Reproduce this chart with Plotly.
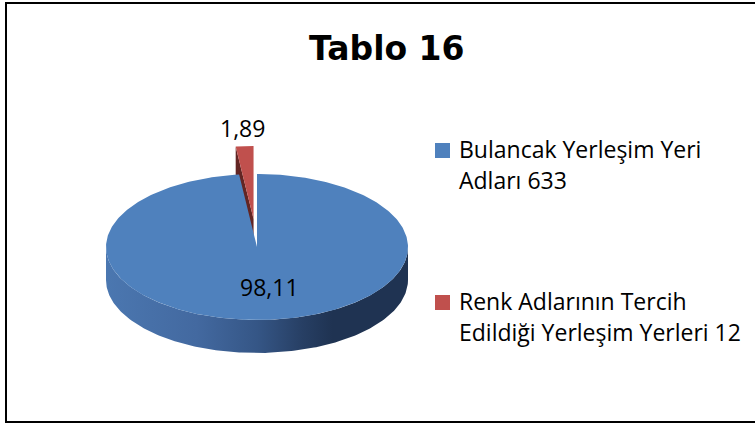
import numpy as np
import plotly.graph_objects as go

# ---------------- data ----------------
title_text = "Tablo 16"
categories = ["Bulancak Yerleşim Yeri Adları 633",
              "Renk Adlarının Tercih Edildiği Yerleşim Yerleri 12"]
legend_lines = [["Bulancak Yerleşim Yeri", "Adları 633"],
                ["Renk Adlarının Tercih", "Edildiği Yerleşim Yerleri 12"]]
values = [98.11, 1.89]
value_labels = ["98,11", "1,89"]
colors = ["#4f81bd", "#c0504d"]
side_colors = ["#1f3352", "#632523"]
explode = [0.0, 0.385]

# ---------------- layout constants (pixels) ----------------
W, H = 755, 425
CX, CY, RX, RY, DEPTH = 257, 247, 151, 73, 33
side_scale = [[0.0, "#4b77b0"], [0.3, "#4369a0"], [0.5, "#355686"],
              [0.65, "#273f64"], [0.75, "#1f3352"], [1.0, "#1f3352"]]


def ell(theta_deg, cx, cy, r=1.0):
    t = np.radians(theta_deg)
    return cx + r * RX * np.sin(t), cy - r * RY * np.cos(t)


total = float(sum(values))
slices = []
start = 0.0
for i, v in enumerate(values):
    a0, a1 = start, start + 360.0 * v / total
    mid = (a0 + a1) / 2
    sx = explode[i] * RX * np.sin(np.radians(mid))
    sy = -explode[i] * RY * np.cos(np.radians(mid))
    slices.append(dict(i=i, a0=a0, a1=a1, mid=mid, cx=CX + sx, cy=CY + sy))
    start = a1

fig = go.Figure()

# back slices first
order = sorted(slices, key=lambda s: -np.cos(np.radians(s["mid"])))
for s in order:
    i = s["i"]
    cx, cy = s["cx"], s["cy"]
    # radial faces
    for a, sign in ((s["a0"], -1), (s["a1"], 1)):
        ny = sign * np.sin(np.radians(a))
        if ny > 1e-6:
            ex, ey = ell(a, cx, cy)
            xs = [cx, ex, ex, cx, cx]
            ys = [cy, ey, ey + DEPTH, cy + DEPTH, cy]
            fig.add_trace(go.Scatter(x=xs, y=ys, mode="lines", fill="toself",
                                     fillcolor=side_colors[i], line=dict(width=0),
                                     hoverinfo="skip", showlegend=False))
    # outer curved side (front half only)
    lo, hi = max(s["a0"], 90.0), min(s["a1"], 270.0)
    if hi > lo:
        th = np.linspace(lo, hi, 200)
        tx, ty = ell(th, cx, cy)
        xs = np.concatenate([tx, tx[::-1], tx[:1]])
        ys = np.concatenate([ty, (ty + DEPTH)[::-1], ty[:1]])
        if i == 0:
            fig.add_trace(go.Scatter(x=xs, y=ys, mode="lines", fill="toself",
                                     fillgradient=dict(type="horizontal", colorscale=side_scale,
                                                       start=CX - RX, stop=CX + RX),
                                     line=dict(width=0), hoverinfo="skip", showlegend=False))
        else:
            fig.add_trace(go.Scatter(x=xs, y=ys, mode="lines", fill="toself",
                                     fillcolor=side_colors[i], line=dict(width=0),
                                     hoverinfo="skip", showlegend=False))
    # top face
    th = np.linspace(s["a0"], s["a1"], 400)
    tx, ty = ell(th, cx, cy)
    xs = np.concatenate([[cx], tx, [cx]])
    ys = np.concatenate([[cy], ty, [cy]])
    fig.add_trace(go.Scatter(x=xs, y=ys, mode="lines", fill="toself",
                             fillcolor=colors[i], line=dict(width=0),
                             name=categories[i], hoverinfo="skip", showlegend=False))

# value labels
label_r = [0.55, 1.25]
label_dx = [8, 0]
for s in slices:
    i = s["i"]
    lx, ly = ell(s["mid"], s["cx"], s["cy"], label_r[i])
    fig.add_annotation(x=lx + label_dx[i], y=ly, text=value_labels[i], showarrow=False,
                       xanchor="center", yanchor="middle",
                       font=dict(family="Open Sans", size=23, color="black"))

# legend (squares + text)
leg_top = [143, 295]
for i, lines in enumerate(legend_lines):
    y0 = leg_top[i]
    fig.add_shape(type="rect", x0=435, x1=450, y0=y0, y1=y0 + 15,
                  fillcolor=colors[i], line=dict(width=0))
    for k, line in enumerate(lines):
        baseline = y0 + 14 + 31 * k
        fig.add_annotation(x=457, y=baseline - 8, text=line, showarrow=False,
                           xanchor="left", yanchor="middle",
                           font=dict(family="Open Sans", size=23, color="black"))

# title
fig.add_annotation(x=386.5, y=48, text="<b>" + title_text + "</b>", showarrow=False,
                   xanchor="center", yanchor="middle",
                   font=dict(family="DejaVu Sans", size=33, color="black"))

# frame
fig.add_shape(type="rect", x0=6, x1=760, y0=3, y1=422,
              line=dict(color="black", width=2), fillcolor="rgba(0,0,0,0)")

fig.update_layout(width=W, height=H, margin=dict(l=0, r=0, t=0, b=0),
                  paper_bgcolor="white", plot_bgcolor="white", showlegend=False,
                  xaxis=dict(range=[0, W], visible=False, fixedrange=True),
                  yaxis=dict(range=[H, 0], visible=False, fixedrange=True))

fig.write_html("out.html", config={"displayModeBar": False},
               post_script="document.body.style.margin='0px';")
